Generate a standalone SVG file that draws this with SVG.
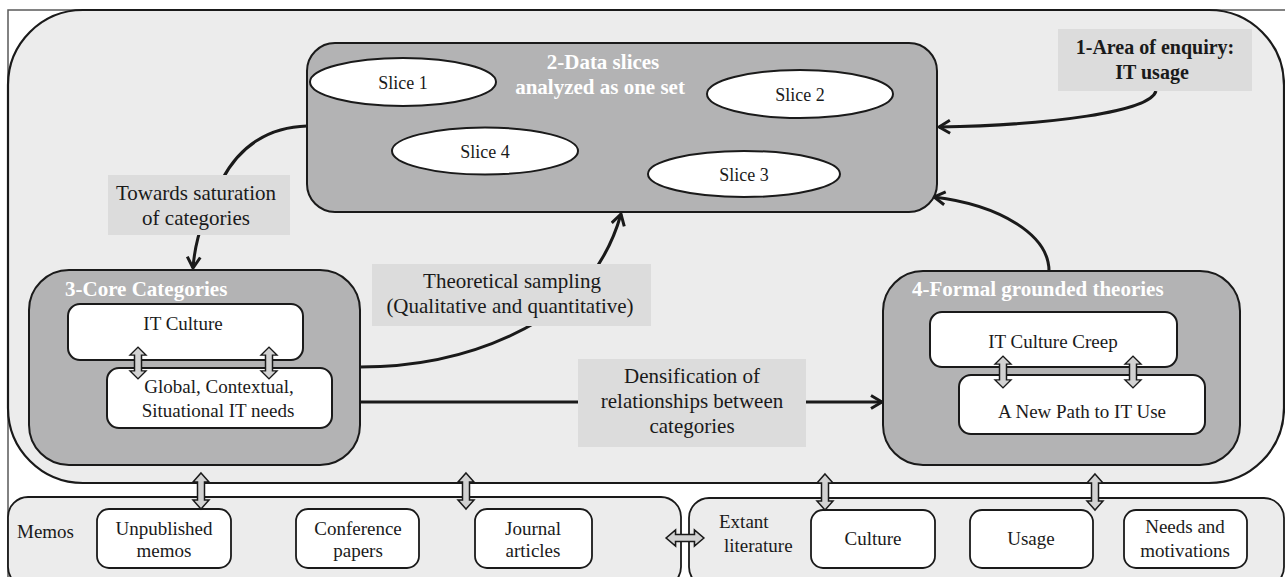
<svg xmlns="http://www.w3.org/2000/svg" xmlns:xlink="http://www.w3.org/1999/xlink" width="1285" height="577" viewBox="0 0 1285 577">
  <style>
    text { font-family: "Liberation Serif", "Times New Roman", serif; fill: #1a1a1a; }
    .t19 { font-size: 19px; }
    .t18 { font-size: 18px; }
    .t21 { font-size: 21px; }
    .title { font-size: 21px; font-weight: bold; fill: #ffffff; }
    .mid { text-anchor: middle; }
    .panel { fill: #b3b3b4; stroke: #1a1a1a; stroke-width: 2; }
    .inner { fill: #ffffff; stroke: #1a1a1a; stroke-width: 2; }
    .slice { fill: #ffffff; stroke: #1a1a1a; stroke-width: 2; }
    .tag { fill: #dcdcdc; stroke: none; }
    .strip { fill: #ececec; stroke: #1a1a1a; stroke-width: 1.8; }
    .item { fill: #ffffff; stroke: #1a1a1a; stroke-width: 1.8; }
    .link { fill: none; stroke: #1a1a1a; stroke-width: 3; }
    .arrow { marker-end: url(#head); }
    .dbl { fill: #d2d2d2; stroke: #1a1a1a; stroke-width: 1.5; }
  </style>
  <defs>
    <marker id="head" viewBox="0 0 14 16" refX="12.5" refY="8" markerWidth="14" markerHeight="16" markerUnits="userSpaceOnUse" orient="auto">
      <path d="M1.5,1.5 L12.5,8 L1.5,14.5" fill="none" stroke="#1a1a1a" stroke-width="3" stroke-linejoin="miter"/>
    </marker>
    <!-- two-headed block arrow, vertical, centred on the origin -->
    <path id="dbl" d="M0,-18 L8,-9 L3.5,-9 L3.5,9 L8,9 L0,18 L-8,9 L-3.5,9 L-3.5,-9 L-8,-9 Z"/>
  </defs>

  <!-- page frame -->
  <rect x="0" y="0" width="1285" height="577" fill="#ffffff"/>
  <rect x="8" y="10" width="1300" height="600" fill="none" stroke="#5a5a5a" stroke-width="1.5"/>

  <!-- main working area -->
  <rect id="area" x="8" y="10" width="1276" height="473" rx="75" ry="75" fill="#ececec" stroke="#1a1a1a" stroke-width="2.2"/>

  <!-- connectors -->
  <g id="connectors">
    <path class="link arrow" d="M1156,91 C1150,112 1050,125 939,127"/>
    <path class="link arrow" d="M1049,271 C1049,235 1000,205 934,197"/>
    <path class="link arrow" d="M307,126 C270,127 240,145 222,180 C205,210 195,240 193,268"/>
    <path class="link arrow" d="M360,367 C430,367 490,350 540,320 C580,296 608,260 621,214"/>
    <path class="link arrow" d="M360,402 L882,402"/>
  </g>

  <!-- 1: area of enquiry -->
  <g id="enquiry">
    <rect class="tag" x="1058" y="29" width="194" height="62"/>
    <text class="mid" x="1155" y="54" style="font-size:20px;font-weight:bold">1-Area of enquiry:</text>
    <text class="mid" x="1152" y="79" style="font-size:20px;font-weight:bold">IT usage</text>
  </g>

  <!-- 2: data slices -->
  <g id="data-slices">
    <rect class="panel" x="307" y="43" width="630" height="169" rx="28" ry="28"/>
    <text class="title mid" x="603" y="69">2-Data slices</text>
    <text class="title mid" x="600" y="94">analyzed as one set</text>
    <ellipse class="slice" cx="403" cy="82" rx="93" ry="24"/>
    <text class="t18 mid" x="403" y="89">Slice 1</text>
    <ellipse class="slice" cx="800" cy="94" rx="93" ry="24"/>
    <text class="t18 mid" x="800" y="101">Slice 2</text>
    <ellipse class="slice" cx="744" cy="174" rx="96" ry="23"/>
    <text class="t18 mid" x="744" y="181">Slice 3</text>
    <ellipse class="slice" cx="485" cy="151" rx="93" ry="23.5"/>
    <text class="t18 mid" x="485" y="158">Slice 4</text>
  </g>

  <!-- connector labels -->
  <g id="saturation">
    <rect class="tag" x="108" y="175" width="182" height="60"/>
    <text class="t21 mid" x="196" y="200">Towards saturation</text>
    <text class="t21 mid" x="196" y="225">of categories</text>
  </g>
  <g id="sampling">
    <rect class="tag" x="372" y="264" width="279" height="62"/>
    <text class="t21 mid" x="512" y="288">Theoretical sampling</text>
    <text class="t21 mid" x="510" y="313">(Qualitative and quantitative)</text>
  </g>
  <g id="densification">
    <rect class="tag" x="578" y="359" width="228" height="88"/>
    <text class="t21 mid" x="692" y="383">Densification of</text>
    <text class="t21 mid" x="692" y="408">relationships between</text>
    <text class="t21 mid" x="692" y="433">categories</text>
  </g>

  <!-- 3: core categories -->
  <g id="core-categories">
    <rect class="panel" x="29" y="270" width="331" height="195" rx="40" ry="40"/>
    <text class="title" x="65" y="296">3-Core Categories</text>
    <rect class="inner" x="68" y="304" width="235" height="56" rx="12" ry="12"/>
    <text class="t19 mid" x="183" y="330">IT Culture</text>
    <rect class="inner" x="107" y="368" width="225" height="60" rx="12" ry="12"/>
    <text class="t19 mid" x="219" y="393">Global, Contextual,</text>
    <text class="t19 mid" x="218" y="417">Situational IT needs</text>
    <use href="#dbl" class="dbl" transform="translate(138,363) scale(1,0.88)"/>
    <use href="#dbl" class="dbl" transform="translate(269,363) scale(1,0.88)"/>
  </g>

  <!-- 4: formal grounded theories -->
  <g id="formal-theories">
    <rect class="panel" x="883" y="271" width="357" height="194" rx="40" ry="40"/>
    <text class="title" x="912" y="296">4-Formal grounded theories</text>
    <rect class="inner" x="930" y="312" width="247" height="55" rx="12" ry="12"/>
    <text class="t19 mid" x="1053" y="348">IT Culture Creep</text>
    <rect class="inner" x="959" y="375" width="246" height="59" rx="12" ry="12"/>
    <text class="t19 mid" x="1082" y="418">A New Path to IT Use</text>
    <use href="#dbl" class="dbl" transform="translate(1003,372) scale(1,0.88)"/>
    <use href="#dbl" class="dbl" transform="translate(1133,372) scale(1,0.88)"/>
  </g>

  <!-- memos strip -->
  <g id="memos">
    <rect class="strip" x="8" y="497" width="673" height="90" rx="20" ry="20"/>
    <text class="t19" x="17" y="538">Memos</text>
    <rect class="item" x="97" y="509" width="134" height="59" rx="12" ry="12"/>
    <text class="t19 mid" x="164" y="535">Unpublished</text>
    <text class="t19 mid" x="164" y="557">memos</text>
    <rect class="item" x="296" y="509" width="123" height="59" rx="12" ry="12"/>
    <text class="t19 mid" x="358" y="535">Conference</text>
    <text class="t19 mid" x="358" y="557">papers</text>
    <rect class="item" x="475" y="509" width="117" height="59" rx="12" ry="12"/>
    <text class="t19 mid" x="533" y="535">Journal</text>
    <text class="t19 mid" x="533" y="557">articles</text>
  </g>

  <!-- extant literature strip -->
  <g id="literature">
    <rect class="strip" x="689" y="498" width="595" height="89" rx="20" ry="20"/>
    <text class="t19" x="719" y="528">Extant</text>
    <text class="t19" x="724" y="552">literature</text>
    <rect class="item" x="811" y="510" width="124" height="58" rx="12" ry="12"/>
    <text class="t19 mid" x="873" y="545">Culture</text>
    <rect class="item" x="970" y="510" width="123" height="58" rx="12" ry="12"/>
    <text class="t19 mid" x="1031" y="545">Usage</text>
    <rect class="item" x="1124" y="510" width="123" height="58" rx="12" ry="12"/>
    <text class="t19 mid" x="1185" y="533">Needs and</text>
    <text class="t19 mid" x="1185" y="557">motivations</text>
  </g>

  <!-- two-way links between the working area and the sources -->
  <g id="exchange">
    <use href="#dbl" class="dbl" transform="translate(201,491)"/>
    <use href="#dbl" class="dbl" transform="translate(466,491)"/>
    <use href="#dbl" class="dbl" transform="translate(825,492)"/>
    <use href="#dbl" class="dbl" transform="translate(1095,492)"/>
    <use href="#dbl" class="dbl" transform="translate(685,538) rotate(90) scale(1,1.05)"/>
  </g>
</svg>
